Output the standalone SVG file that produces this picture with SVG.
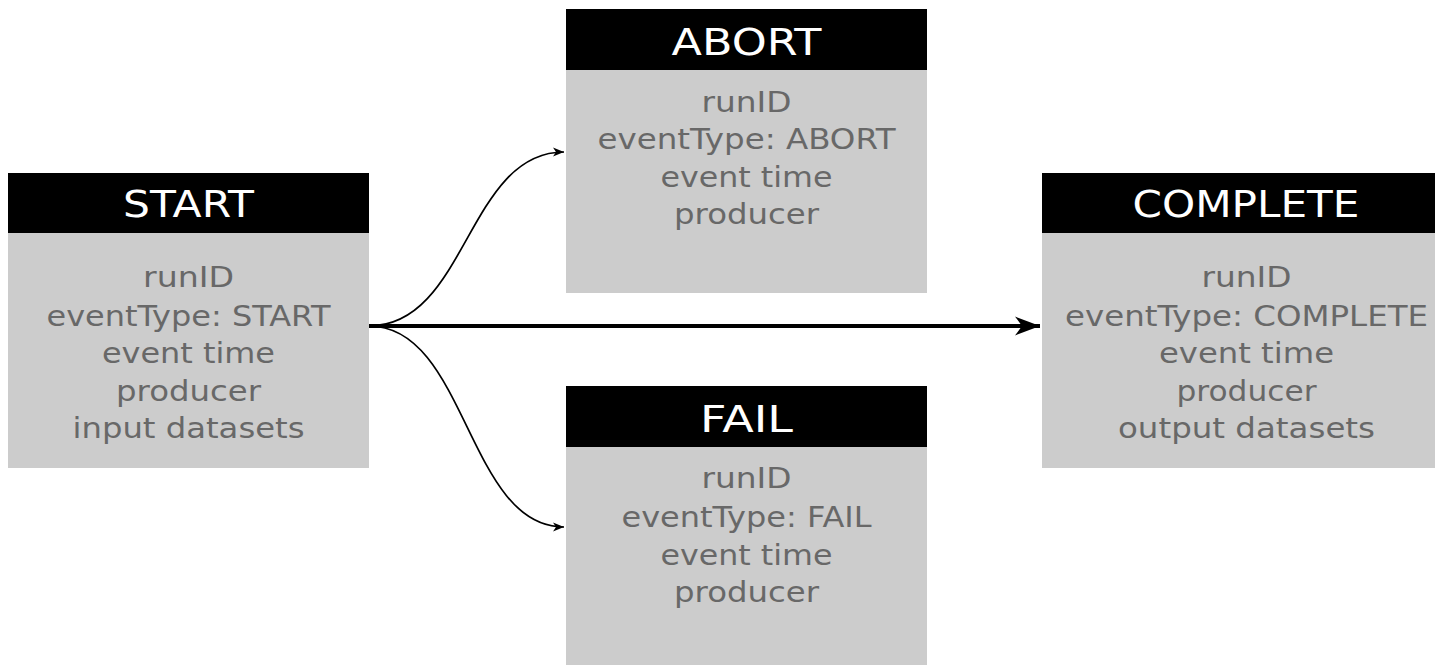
<svg xmlns="http://www.w3.org/2000/svg" width="1435" height="666" viewBox="0 0 1435 666">
  <style>
    .head { fill: #000000; }
    .body { fill: #cccccc; }
    .title { font-family: "DejaVu Sans", "Liberation Sans", sans-serif; font-size: 38px; fill: #ffffff; text-anchor: middle; }
    .field { font-family: "DejaVu Sans", "Liberation Sans", sans-serif; font-size: 29px; fill: #686868; text-anchor: middle; }
    .thin { fill: none; stroke: #000000; stroke-width: 1.7; }
    .thick { fill: none; stroke: #000000; stroke-width: 4; }
  </style>
  <defs>
    <marker id="arrowSmall" markerUnits="userSpaceOnUse" markerWidth="12" markerHeight="10" refX="11" refY="4.5" orient="auto" viewBox="0 0 12 9">
      <path d="M0,0 L11,4.5 L0,9 L3,4.5 Z" fill="#000000"/>
    </marker>
    <marker id="arrowLarge" markerUnits="userSpaceOnUse" markerWidth="26" markerHeight="20" refX="25" refY="9.5" orient="auto" viewBox="0 0 26 19">
      <path d="M0,0 L25,9.5 L0,19 L7,9.5 Z" fill="#000000"/>
    </marker>
  </defs>

  <rect width="1435" height="666" fill="#ffffff"/>

  <!-- connectors -->
  <g id="connectors">
    <path class="thin" d="M369,326 C467,326 467,152 564,152" marker-end="url(#arrowSmall)"/>
    <path class="thin" d="M369,326 C467,326 467,527 564,527" marker-end="url(#arrowSmall)"/>
    <path class="thick" d="M369,326 L1040,326" marker-end="url(#arrowLarge)"/>
  </g>

  <!-- START event -->
  <g id="node-start">
    <rect class="head" x="8" y="173" width="361" height="60"/>
    <rect class="body" x="8" y="233" width="361" height="235"/>
    <text class="title" x="188.5" y="217" textLength="131" lengthAdjust="spacingAndGlyphs">START</text>
    <text class="field" x="188.5" y="287" textLength="91" lengthAdjust="spacingAndGlyphs">runID</text>
    <text class="field" x="188.5" y="326" textLength="284" lengthAdjust="spacingAndGlyphs">eventType: START</text>
    <text class="field" x="188.5" y="363" textLength="173" lengthAdjust="spacingAndGlyphs">event time</text>
    <text class="field" x="188.5" y="401" textLength="145" lengthAdjust="spacingAndGlyphs">producer</text>
    <text class="field" x="188.5" y="438" textLength="232" lengthAdjust="spacingAndGlyphs">input datasets</text>
  </g>

  <!-- ABORT event -->
  <g id="node-abort">
    <rect class="head" x="566" y="9" width="361" height="61"/>
    <rect class="body" x="566" y="70" width="361" height="223"/>
    <text class="title" x="746.5" y="55" textLength="150" lengthAdjust="spacingAndGlyphs">ABORT</text>
    <text class="field" x="746.5" y="112" textLength="90" lengthAdjust="spacingAndGlyphs">runID</text>
    <text class="field" x="746.5" y="149" textLength="298" lengthAdjust="spacingAndGlyphs">eventType: ABORT</text>
    <text class="field" x="746.5" y="187" textLength="172" lengthAdjust="spacingAndGlyphs">event time</text>
    <text class="field" x="746.5" y="224" textLength="145" lengthAdjust="spacingAndGlyphs">producer</text>
  </g>

  <!-- FAIL event -->
  <g id="node-fail">
    <rect class="head" x="566" y="386" width="361" height="61"/>
    <rect class="body" x="566" y="447" width="361" height="218"/>
    <text class="title" x="746.5" y="432" textLength="93" lengthAdjust="spacingAndGlyphs">FAIL</text>
    <text class="field" x="746.5" y="488" textLength="90" lengthAdjust="spacingAndGlyphs">runID</text>
    <text class="field" x="746.5" y="527" textLength="250" lengthAdjust="spacingAndGlyphs">eventType: FAIL</text>
    <text class="field" x="746.5" y="565" textLength="172" lengthAdjust="spacingAndGlyphs">event time</text>
    <text class="field" x="746.5" y="602" textLength="145" lengthAdjust="spacingAndGlyphs">producer</text>
  </g>

  <!-- COMPLETE event -->
  <g id="node-complete">
    <rect class="head" x="1042" y="173" width="408" height="60"/>
    <rect class="body" x="1042" y="233" width="408" height="235"/>
    <text class="title" x="1246" y="217" textLength="227" lengthAdjust="spacingAndGlyphs">COMPLETE</text>
    <text class="field" x="1246.5" y="287" textLength="90" lengthAdjust="spacingAndGlyphs">runID</text>
    <text class="field" x="1246.5" y="326" textLength="363" lengthAdjust="spacingAndGlyphs">eventType: COMPLETE</text>
    <text class="field" x="1246.5" y="363" textLength="175" lengthAdjust="spacingAndGlyphs">event time</text>
    <text class="field" x="1246.5" y="401" textLength="140" lengthAdjust="spacingAndGlyphs">producer</text>
    <text class="field" x="1246.5" y="438" textLength="257" lengthAdjust="spacingAndGlyphs">output datasets</text>
  </g>
</svg>
